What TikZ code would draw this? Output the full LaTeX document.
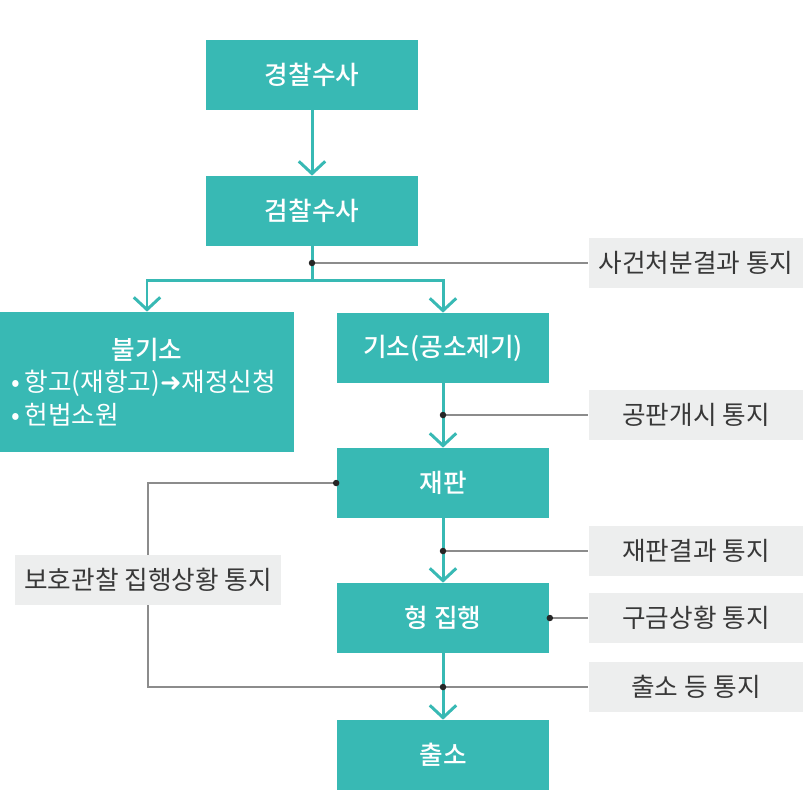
\documentclass[tikz,border=0pt]{standalone}
\usepackage{fontspec}
\setmainfont{Noto Sans CJK KR}[BoldFont={Noto Sans CJK KR Medium}]
\newfontfamily\symfont{DejaVu Sans}
\usetikzlibrary{arrows.meta,positioning}

\definecolor{stagecol}{HTML}{38B9B4}
\definecolor{notecol}{HTML}{EDEEEE}
\definecolor{linecol}{HTML}{8C8C8C}
\definecolor{textcol}{HTML}{383838}

\tikzset{
    stage/.style={fill=stagecol, text=white, inner sep=0pt, minimum width=4.26cm, minimum height=1.4cm,
        font=\fontsize{14.6}{18}\selectfont\bfseries},
    note/.style={fill=notecol, text=textcol, inner sep=0pt, minimum width=4.3cm, minimum height=1cm,
        font=\fontsize{14.6}{18}\selectfont},
    flow/.style={stagecol, line width=1.7pt, -{Straight Barb[length=7pt, width=15pt, line width=1.7pt]}},
    trunk/.style={stagecol, line width=1.7pt},
    notify/.style={linecol, line width=1pt},
    jdot/.style={fill=black!85}
}

\begin{document}
\begin{tikzpicture}[x=0.02cm, y=-0.02cm]

    \useasboundingbox (0,0) rectangle (803,802);

    % main stages
    \node[stage] (police) at (312,75) {경찰수사};
    \node[stage] (prosecution) at (312,211) {검찰수사};
    \node[stage, minimum width=5.88cm, minimum height=2.8cm, text width=5.44cm, align=left,
        font=\fontsize{14.6}{18.6}\selectfont] (nonindict) at (147,382)
        {\hfill{\bfseries 불기소}\hfill\null\\
         \mbox{•\hspace{0.1cm}항고(재항고){\symfont ➜}재정신청}\\
         \mbox{•\hspace{0.1cm}헌법소원}};
    \node[stage] (indict) at (443,348) {기소(공소제기)};
    \node[stage] (trial) at (443,483) {재판};
    \node[stage] (execution) at (443,618) {형 집행};
    \node[stage] (release) at (443,755) {출소};

    % notices
    \node[note] (casenote) at (696,263) {사건처분결과 통지};
    \node[note] (opennote) at (696,415) {공판개시 통지};
    \node[note] (verdictnote) at (696,551) {재판결과 통지};
    \node[note] (custodynote) at (696,618) {구금상황 통지};
    \node[note] (releasenote) at (696,687) {출소 등 통지};
    \node[note, minimum width=5.34cm] (probation) at (148,580) {보호관찰 집행상황 통지};

    % flow
    \coordinate (fork) at (312,280);
    \draw[flow] (police) -- (prosecution);
    \draw[trunk] (prosecution.south) -- (fork);
    \draw[flow] (fork) -| (nonindict.north);
    \draw[flow] (fork) -| (indict.north);
    \draw[flow] (indict) -- (trial);
    \draw[flow] (trial) -- (execution);
    \draw[flow] (execution) -- (release);

    % notice lines
    \coordinate (d1) at (312,263);
    \coordinate (d2) at (443,415);
    \coordinate (d3) at (443,551);
    \coordinate (d5) at (443,687);
    \draw[notify] (d1) -- (casenote.west);
    \draw[notify] (d2) -- (opennote.west);
    \draw[notify] (d3) -- (verdictnote.west);
    \draw[notify] (execution.east) -- (custodynote.west);
    \draw[notify] (trial.west) -| (probation.north);
    \draw[notify] (probation.south) |- (releasenote.west);

    \foreach \d in {d1,d2,d3,d5,trial.west,execution.east}
        \fill[jdot] (\d) circle (0.065cm);

\end{tikzpicture}
\end{document}
